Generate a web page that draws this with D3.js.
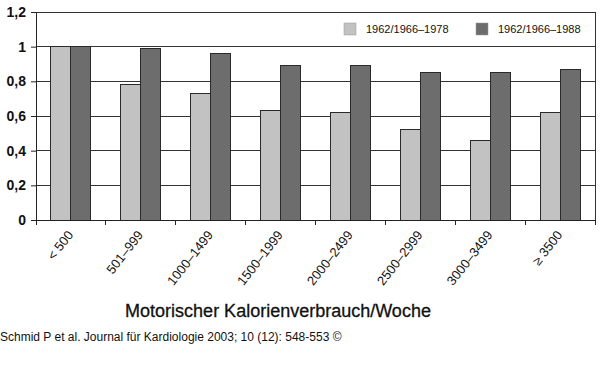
<!DOCTYPE html>
<html><head><meta charset="utf-8">
<script src="https://cdn.jsdelivr.net/npm/d3@7"></script>
<style>body{margin:0;background:#fff}svg{display:block}text{font-family:"Liberation Sans",Arial,sans-serif}</style>
</head><body><svg id="c" width="600" height="386"></svg>
<script>
const categories = ["< 500","501–999","1000–1499","1500–1999","2000–2499","2500–2999","3000–3499","≥ 3500"];
const series1 = [1.00,0.78,0.73,0.63,0.62,0.52,0.46,0.62];
const series2 = [1.00,0.99,0.96,0.89,0.89,0.85,0.85,0.87];
const seriesNames = ["1962/1966–1978","1962/1966–1988"];
const yTicks = [0,0.2,0.4,0.6,0.8,1,1.2];
const colors = ["#c2c2c2","#6d6d6d"];

const svg = d3.select("#c");
const L=36,R=595,T=12,B=220;
const x = d3.scaleBand().domain(categories).range([L,R]).padding(0);
const y = d3.scaleLinear().domain([0,1.2]).range([B,T]);
const fmt = d => d3.format(".1~f")(d).replace(".",",");

// gridlines
svg.append("g").selectAll("line").data(yTicks.filter(d=>d>0)).join("line")
  .attr("x1",L).attr("x2",R).attr("y1",d=>y(d)).attr("y2",d=>y(d))
  .attr("stroke","#333").attr("stroke-width",1).attr("shape-rendering","crispEdges");

const bw = x.bandwidth()*20/70;
const data = categories.map((c,i)=>({c,v:[series1[i],series2[i]]}));
const g = svg.append("g");
data.forEach(d=>{
  d.v.forEach((v,j)=>{
    const cx = x(d.c)+x.bandwidth()/2;
    g.append("rect").attr("x",cx-bw+j*bw).attr("width",bw)
      .attr("y",y(v)).attr("height",y(0)-y(v))
      .attr("fill",colors[j]).attr("stroke","#2a2a2a").attr("stroke-width",1).attr("shape-rendering","crispEdges");
  });
});

// border right and top
svg.append("line").attr("x1",R).attr("x2",R).attr("y1",T).attr("y2",B).attr("stroke","#333").attr("shape-rendering","crispEdges");
svg.append("line").attr("x1",L).attr("x2",R).attr("y1",T).attr("y2",T).attr("stroke","#333").attr("shape-rendering","crispEdges");

// y axis
const ya = svg.append("g").attr("transform",`translate(${L},0)`)
  .call(d3.axisLeft(y).tickValues(yTicks).tickFormat(fmt).tickSize(5).tickSizeOuter(0));
ya.select(".domain").attr("stroke","#222");
ya.selectAll(".tick line").attr("stroke","#222");
ya.selectAll("text").attr("font-family","Liberation Sans, Arial, sans-serif").attr("font-size",14).attr("font-weight","bold").attr("fill","#111").attr("x",-10);

// x axis
const xa = svg.append("g").attr("transform",`translate(0,${B})`)
  .call(d3.axisBottom(x).tickSize(0).tickSizeOuter(0));
xa.select(".domain").attr("stroke","#222");
xa.selectAll(".tick text").attr("font-family","Liberation Sans, Arial, sans-serif").attr("font-size",13).attr("fill","#111")
  .attr("text-anchor","end").attr("dy",0).attr("y",0)
  .attr("transform","translate(3,15) rotate(-52)");
// boundary ticks
svg.append("g").selectAll("line").data(d3.range(categories.length+1)).join("line")
  .attr("x1",i=>L+i*x.step()).attr("x2",i=>L+i*x.step()).attr("y1",B).attr("y2",B+5)
  .attr("stroke","#222").attr("shape-rendering","crispEdges");

// legend
const lg = svg.append("g");
const lx=[344,476];
seriesNames.forEach((n,i)=>{
  lg.append("rect").attr("x",lx[i]).attr("y",23).attr("width",12).attr("height",12).attr("fill",colors[i]).attr("stroke","#999").attr("stroke-width",0.5);
  lg.append("text").attr("x",lx[i]+22).attr("y",33).attr("font-size",11).attr("fill","#111").text(n);
});

// axis title
svg.append("text").attr("x",278).attr("y",317).attr("text-anchor","middle").attr("font-size",18).attr("fill","#111").attr("stroke","#111").attr("stroke-width",0.3).text("Motorischer Kalorienverbrauch/Woche");
// caption
svg.append("text").attr("x",0).attr("y",341).attr("font-size",12).attr("fill","#111").text("Schmid P et al. Journal für Kardiologie 2003; 10 (12): 548-553 ©");
</script></body></html>
